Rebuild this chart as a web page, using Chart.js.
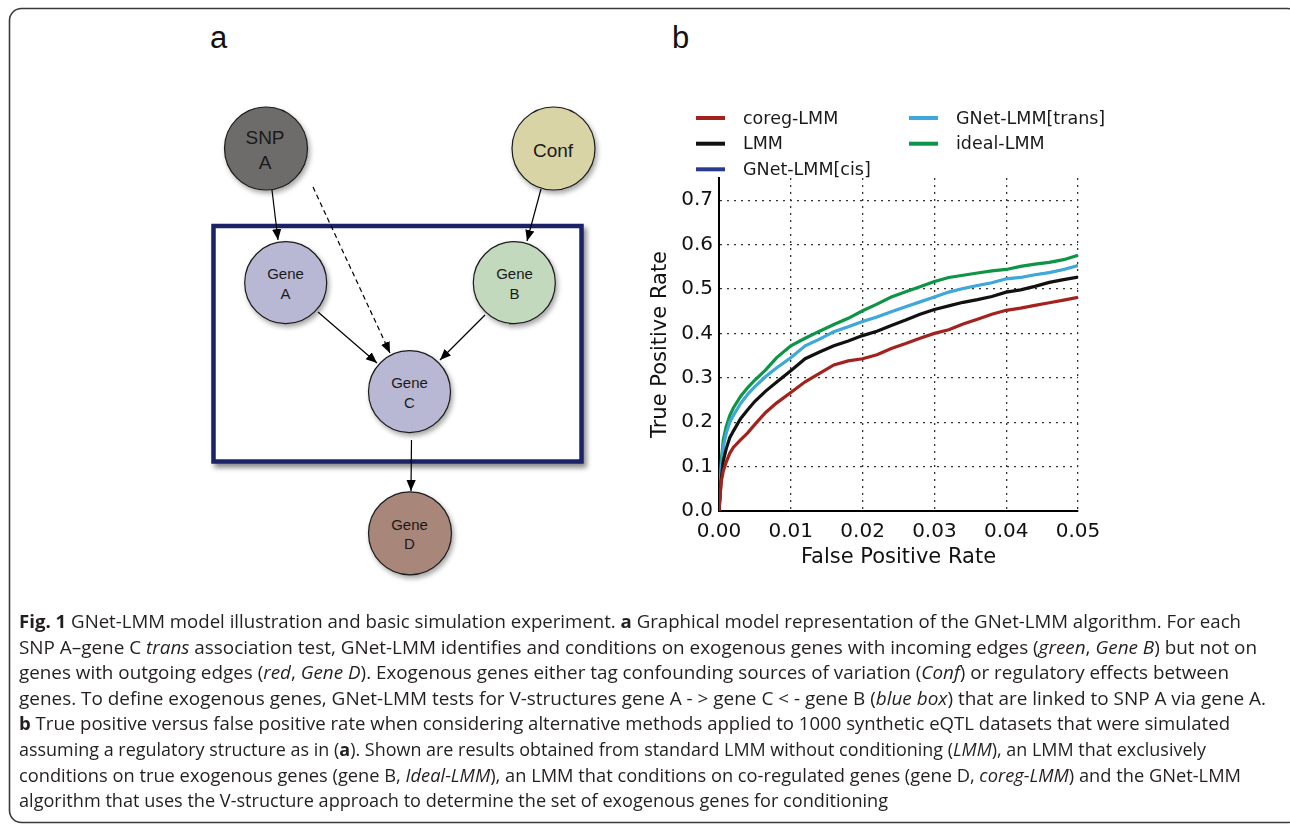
<!DOCTYPE html>
<html>
<head>
<meta charset="utf-8">
<script src="https://cdn.jsdelivr.net/npm/chart.js@4.4.1/dist/chart.umd.min.js"></script>
<style>
  html, body { margin:0; padding:0; background:#fff; }
  body { width:1290px; height:827px; position:relative; overflow:hidden; }
  #diagram { position:absolute; left:0; top:0; }
  #chartWrap { position:absolute; left:620px; top:90px; width:530px; height:490px; }
  .cap { position:absolute; left:19px; white-space:nowrap; font-family:"Open Sans", sans-serif; font-size:18px; line-height:25.6px; color:#231f20; transform-origin:0 50%; display:inline-block; }
</style>
</head>
<body>
<script>
// ---- Data ----
const fpr = [0, 0.0003, 0.0006, 0.001, 0.0015, 0.002, 0.003, 0.004, 0.005, 0.0065, 0.008, 0.01, 0.012, 0.014, 0.016, 0.018, 0.02, 0.022, 0.024, 0.026, 0.028, 0.03, 0.032, 0.034, 0.036, 0.038, 0.04, 0.042, 0.044, 0.046, 0.048, 0.05];
const coregLMM  = [0, 0.065, 0.09, 0.11, 0.13, 0.143, 0.16, 0.176, 0.195, 0.222, 0.243, 0.267, 0.291, 0.31, 0.329, 0.338, 0.343, 0.352, 0.366, 0.377, 0.389, 0.4, 0.408, 0.421, 0.432, 0.443, 0.452, 0.457, 0.463, 0.469, 0.475, 0.481];
const LMM       = [0, 0.07, 0.113, 0.14, 0.165, 0.18, 0.208, 0.228, 0.247, 0.27, 0.29, 0.316, 0.343, 0.358, 0.372, 0.383, 0.395, 0.405, 0.418, 0.43, 0.443, 0.454, 0.462, 0.47, 0.476, 0.483, 0.493, 0.498, 0.506, 0.515, 0.521, 0.527];
const gnetCis   = [0, 0.095, 0.145, 0.175, 0.2, 0.215, 0.242, 0.263, 0.28, 0.303, 0.322, 0.345, 0.372, 0.387, 0.404, 0.415, 0.427, 0.437, 0.449, 0.46, 0.471, 0.482, 0.493, 0.501, 0.508, 0.514, 0.523, 0.526, 0.532, 0.537, 0.544, 0.553];
const gnetTrans = [0, 0.095, 0.145, 0.175, 0.2, 0.215, 0.242, 0.263, 0.28, 0.303, 0.322, 0.345, 0.372, 0.387, 0.404, 0.415, 0.427, 0.437, 0.449, 0.46, 0.471, 0.482, 0.493, 0.501, 0.508, 0.514, 0.523, 0.526, 0.532, 0.537, 0.544, 0.553];
const idealLMM  = [0, 0.11, 0.16, 0.19, 0.215, 0.232, 0.258, 0.278, 0.295, 0.318, 0.345, 0.372, 0.389, 0.405, 0.42, 0.434, 0.451, 0.466, 0.482, 0.494, 0.505, 0.517, 0.526, 0.531, 0.536, 0.541, 0.544, 0.551, 0.556, 0.56, 0.566, 0.576];
const seriesLabels = ["coreg-LMM", "LMM", "GNet-LMM[cis]", "GNet-LMM[trans]", "ideal-LMM"];
const seriesColors = ["#a3221d", "#111111", "#2b3a8f", "#3ea8da", "#0d9447"];
const seriesOrder  = [1, 1, 9, 1, 1]; // cis curve lies beneath the trans curve
const xTicks = [0, 0.01, 0.02, 0.03, 0.04, 0.05];
const yTicks = [0, 0.1, 0.2, 0.3, 0.4, 0.5, 0.6, 0.7];
const xTitle = "False Positive Rate";
const yTitle = "True Positive Rate";
</script>

<svg id="diagram" width="1290" height="827" xmlns="http://www.w3.org/2000/svg">
  <defs>
    <filter id="sh" x="-30%" y="-30%" width="170%" height="170%">
      <feDropShadow dx="2" dy="3" stdDeviation="2.5" flood-color="#000" flood-opacity="0.35"/>
    </filter>
    <filter id="shb" x="-10%" y="-10%" width="130%" height="130%">
      <feDropShadow dx="3" dy="4" stdDeviation="2.5" flood-color="#000" flood-opacity="0.45"/>
    </filter>
    <marker id="ah" viewBox="0 0 10 10" refX="10" refY="5" markerWidth="11" markerHeight="11" markerUnits="userSpaceOnUse" orient="auto">
      <path d="M0,0.8 L10,5 L0,9.2 z" fill="#000"/>
    </marker>
  </defs>
  <!-- outer frame -->
  <rect x="9.5" y="8.5" width="1290" height="814" rx="12" ry="12" fill="none" stroke="#3a3a3a" stroke-width="1.6"/>
  <!-- panel letters -->
  <text x="210" y="48" font-family="Liberation Sans, Arial, sans-serif" font-size="31" fill="#111">a</text>
  <text x="672" y="48" font-family="Liberation Sans, Arial, sans-serif" font-size="31" fill="#111">b</text>

  <!-- blue box -->
  <rect x="213.5" y="226" width="368" height="235.5" fill="#fff" stroke="#1b2266" stroke-width="4.5" filter="url(#shb)"/>

  <!-- edges -->
  <g stroke="#000" stroke-width="1.2" fill="none">
    <line x1="272" y1="190" x2="278" y2="240" marker-end="url(#ah)"/>
    <line x1="541" y1="189" x2="527" y2="241" marker-end="url(#ah)"/>
    <line x1="318" y1="312" x2="377" y2="363" marker-end="url(#ah)"/>
    <line x1="485" y1="315" x2="440" y2="360" marker-end="url(#ah)"/>
    <line x1="313" y1="187" x2="390" y2="353" stroke-dasharray="5,3.5" marker-end="url(#ah)"/>
    <line x1="411.5" y1="440" x2="411" y2="491" marker-end="url(#ah)"/>
  </g>

  <!-- nodes -->
  <g stroke="#1a1a1a" stroke-width="1.2" filter="url(#sh)">
    <circle cx="266" cy="148.5" r="41.5" fill="#6d6c6a"/>
    <circle cx="553.5" cy="148.5" r="41.5" fill="#d9d4a6"/>
    <circle cx="285.7" cy="282.7" r="41" fill="#b9b8d4"/>
    <circle cx="514.3" cy="282.7" r="41" fill="#c2d9be"/>
    <circle cx="409.5" cy="391.7" r="41" fill="#b9b8d4"/>
    <circle cx="410" cy="533.3" r="41.5" fill="#a8867a"/>
  </g>
  <g font-family="Liberation Sans, Arial, sans-serif" fill="#1a1a1a" text-anchor="middle">
    <text x="265" y="143.5" font-size="19">SNP</text>
    <text x="265" y="168.5" font-size="19">A</text>
    <text x="553" y="156.5" font-size="19">Conf</text>
    <text x="285.5" y="279" font-size="15">Gene</text>
    <text x="285.5" y="298.5" font-size="15">A</text>
    <text x="514.5" y="279" font-size="15">Gene</text>
    <text x="514.5" y="298.5" font-size="15">B</text>
    <text x="409.5" y="388.3" font-size="15">Gene</text>
    <text x="409.5" y="407.7" font-size="15">C</text>
    <text x="409.5" y="530" font-size="15">Gene</text>
    <text x="409.5" y="549.3" font-size="15">D</text>
  </g>
</svg>

<div id="chartWrap"><canvas id="c" width="530" height="490"></canvas></div>

<div class="cap" data-w="1222" style="top:609px"><b>Fig. 1</b> GNet-LMM model illustration and basic simulation experiment. <b>a</b> Graphical model representation of the GNet-LMM algorithm. For each</div>
<div class="cap" data-w="1238" style="top:634.6px">SNP A–gene C <i>trans</i> association test, GNet-LMM identifies and conditions on exogenous genes with incoming edges (<i>green</i>, <i>Gene B</i>) but not on</div>
<div class="cap" data-w="1210" style="top:660.2px">genes with outgoing edges (<i>red</i>, <i>Gene D</i>). Exogenous genes either tag confounding sources of variation (<i>Conf</i>) or regulatory effects between</div>
<div class="cap" data-w="1247" style="top:685.8px">genes. To define exogenous genes, GNet-LMM tests for V-structures gene A - &gt; gene C &lt; - gene B (<i>blue box</i>) that are linked to SNP A via gene A.</div>
<div class="cap" data-w="1211" style="top:711.4px"><b>b</b> True positive versus false positive rate when considering alternative methods applied to 1000 synthetic eQTL datasets that were simulated</div>
<div class="cap" data-w="1187" style="top:737px">assuming a regulatory structure as in (<b>a</b>). Shown are results obtained from standard LMM without conditioning (<i>LMM</i>), an LMM that exclusively</div>
<div class="cap" data-w="1222" style="top:762.6px">conditions on true exogenous genes (gene B, <i>Ideal-LMM</i>), an LMM that conditions on co-regulated genes (gene D, <i>coreg-LMM</i>) and the GNet-LMM</div>
<div class="cap" data-w="869" style="top:788.2px">algorithm that uses the V-structure approach to determine the set of exogenous genes for conditioning</div>

<script>
function fitCaptions() {
  document.querySelectorAll('.cap').forEach(el => {
    el.style.transform = 'none';
    const w = el.getBoundingClientRect().width;
    const target = +el.dataset.w;
    el.style.transform = 'scaleX(' + (target / w) + ')';
  });
}
fitCaptions();
if (document.fonts && document.fonts.ready) document.fonts.ready.then(fitCaptions);

const seriesData = [coregLMM, LMM, gnetCis, gnetTrans, idealLMM];
const datasets = seriesLabels.map((lab, i) => ({
  label: lab,
  data: fpr.map((x, k) => ({x: x, y: seriesData[i][k]})),
  borderColor: seriesColors[i],
  backgroundColor: seriesColors[i],
  borderWidth: i === 2 ? 2 : 3.2,
  pointRadius: 0,
  tension: 0,
  fill: false,
  order: seriesOrder[i]
}));

const gridColor = (ctx) => (ctx.tick && Math.abs(ctx.tick.value) < 1e-9) ? 'rgba(0,0,0,0)' : '#333';
const tickFont = {family: 'DejaVu Sans', size: 20};

const legendPlugin = {
  id: 'customLegend',
  afterDraw(chart) {
    const ctx = chart.ctx;
    // column-major legend: 3 rows in col 1, 2 rows in col 2
    const cols = [{lx: 76, tx: 123}, {lx: 289, tx: 336}];
    const rows = [28, 53.7, 79.3];
    ctx.save();
    ctx.font = '17.5px "DejaVu Sans"';
    ctx.textBaseline = 'middle';
    ctx.fillStyle = '#1a1a1a';
    chart.data.datasets.forEach((ds, i) => {
      const c = cols[Math.floor(i / 3)];
      const y = rows[i % 3];
      ctx.strokeStyle = ds.borderColor;
      ctx.lineWidth = 4;
      ctx.beginPath();
      ctx.moveTo(c.lx, y);
      ctx.lineTo(c.lx + 29, y);
      ctx.stroke();
      ctx.fillText(ds.label, c.tx, y + 1);
    });
    ctx.restore();
  }
};

new Chart(document.getElementById('c'), {
  type: 'line',
  data: { datasets },
  plugins: [legendPlugin],
  options: {
    responsive: false,
    animation: false,
    devicePixelRatio: 1,
    layout: { padding: { left: 0, right: 72, top: 88, bottom: 0 } },
    plugins: { legend: { display: false }, tooltip: { enabled: false } },
    scales: {
      x: {
        type: 'linear',
        min: xTicks[0], max: xTicks[xTicks.length - 1],
        afterFit(s) { s.height = 69; },
        afterBuildTicks(s) { s.ticks = xTicks.map(v => ({value: v})); },
        ticks: { font: tickFont, color: '#111', padding: 9, maxRotation: 0, callback: v => Number(v).toFixed(2) },
        grid: { color: gridColor, lineWidth: 1.3, drawTicks: false },
        border: { display: true, color: '#000', width: 2, dash: [2, 5] },
        title: { display: true, text: xTitle, font: {family: 'DejaVu Sans', size: 21}, color: '#111', padding: {top: 0, bottom: 10} }
      },
      y: {
        type: 'linear',
        min: 0, max: 0.75,
        afterFit(s) { s.width = 99; },
        afterBuildTicks(s) { s.ticks = yTicks.map(v => ({value: v})); },
        ticks: { font: tickFont, color: '#111', padding: 6, callback: v => Number(v).toFixed(1) },
        grid: { color: gridColor, lineWidth: 1.3, drawTicks: false },
        border: { display: true, color: '#000', width: 2, dash: [2, 5] },
        title: { display: true, text: yTitle, font: {family: 'DejaVu Sans', size: 21}, color: '#111', padding: {top: 28, bottom: 0} }
      }
    }
  }
});
</script>
</body>
</html>
